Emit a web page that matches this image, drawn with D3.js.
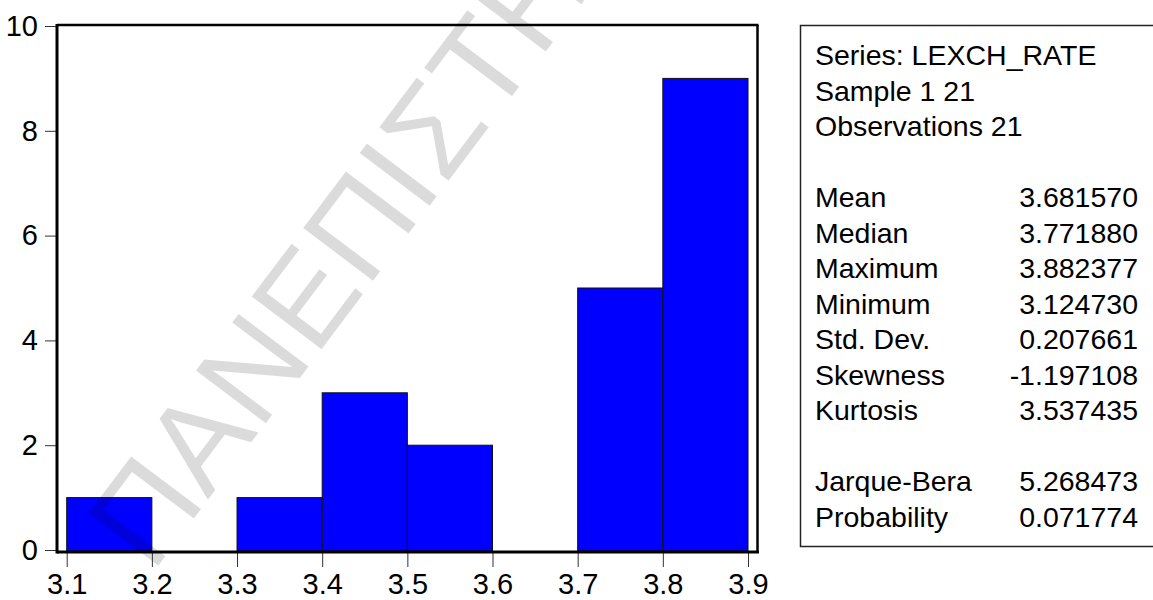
<!DOCTYPE html>
<html>
<head>
  <meta charset="utf-8">
  <title>LEXCH_RATE histogram</title>
  <script src="https://d3js.org/d3.v7.min.js"></script>
  <style>
    body { margin: 0; background: #fff; }
    svg { display: block; font-family: "Liberation Sans", Arial, sans-serif; }
    .tick line { stroke: #333; }
    .tick text { font-size: 29px; fill: #000; }
    .stats text { font-size: 28.5px; fill: #000; }
  </style>
</head>
<body>
  <svg width="1153" height="600"></svg>
  <script>
    // histogram bins (edges) and counts
    const binEdges = [3.1, 3.2, 3.3, 3.4, 3.5, 3.6, 3.7, 3.8, 3.9];
    const counts = [1, 0, 1, 3, 2, 0, 5, 9];

    const xTicks = [3.1, 3.2, 3.3, 3.4, 3.5, 3.6, 3.7, 3.8, 3.9];
    const yTicks = [0, 2, 4, 6, 8, 10];

    const headerLines = ["Series: LEXCH_RATE", "Sample 1 21", "Observations 21"];
    const statLabels = ["Mean", "Median", "Maximum", "Minimum", "Std. Dev.", "Skewness", "Kurtosis"];
    const statValues = ["3.681570", "3.771880", "3.882377", "3.124730", "0.207661", "-1.197108", "3.537435"];
    const testLabels = ["Jarque-Bera", "Probability"];
    const testValues = ["5.268473", "0.071774"];

    const svg = d3.select("svg");

    const frame = { left: 57, right: 757.5, top: 25, bottom: 552 };

    const x = d3.scaleLinear().domain([3.1, 3.9]).range([66.7, 748]);
    const y = d3.scaleLinear().domain([0, 10]).range([550, 26]);

    const bins = counts.map((c, i) => ({ x0: binEdges[i], x1: binEdges[i + 1], n: c }));

    svg.append("g")
      .selectAll("rect")
      .data(bins.filter(d => d.n > 0))
      .join("rect")
      .attr("x", d => x(d.x0))
      .attr("y", d => y(d.n))
      .attr("width", d => x(d.x1) - x(d.x0))
      .attr("height", d => y(0) - y(d.n) + 1)
      .attr("fill", "#0000ff")
      .attr("stroke", "#111")
      .attr("stroke-width", 1);

    // watermark
    svg.append("text")
      .attr("transform", "translate(152,574) rotate(-53)")
      .attr("font-size", 127)
      .attr("letter-spacing", 1)
      .attr("fill", "#000")
      .attr("fill-opacity", 0.14)
      .text("ΠΑΝΕΠΙΣΤΗΜΙΟ");

    // frame
    svg.append("line")
      .attr("x1", frame.left).attr("x2", frame.right + 1)
      .attr("y1", frame.top).attr("y2", frame.top)
      .attr("stroke", "#000").attr("stroke-width", 2.5);
    svg.append("line")
      .attr("x1", frame.right).attr("x2", frame.right)
      .attr("y1", frame.top).attr("y2", frame.bottom)
      .attr("stroke", "#000").attr("stroke-width", 2.5);

    const yAxis = svg.append("g")
      .attr("transform", `translate(${frame.left - 1},0)`)
      .call(d3.axisLeft(y).tickValues(yTicks).tickSize(11).tickPadding(7));
    yAxis.select(".domain").remove();

    const xAxis = svg.append("g")
      .attr("transform", `translate(0,${frame.bottom})`)
      .call(d3.axisBottom(x).tickValues(xTicks).tickSize(15).tickPadding(6).tickFormat(d3.format(".1f")));
    xAxis.select(".domain").remove();

    svg.append("line")
      .attr("x1", frame.left).attr("x2", frame.left)
      .attr("y1", frame.top - 1).attr("y2", frame.bottom + 1.5)
      .attr("stroke", "#000").attr("stroke-width", 3);
    svg.append("line")
      .attr("x1", frame.left).attr("x2", frame.right + 1.5)
      .attr("y1", frame.bottom).attr("y2", frame.bottom)
      .attr("stroke", "#000").attr("stroke-width", 3);

    // statistics box
    const box = svg.append("g").attr("class", "stats");
    box.append("rect")
      .attr("x", 800.5).attr("y", 25.5)
      .attr("width", 400).attr("height", 521)
      .attr("fill", "none").attr("stroke", "#222").attr("stroke-width", 1.5);

    const lineH = 35.5, base = 65, textX = 815, valX = 1138;

    box.selectAll("text.head")
      .data(headerLines)
      .join("text")
      .attr("class", "head")
      .attr("x", textX)
      .attr("y", (d, i) => base + i * lineH)
      .text(d => d);

    const rows = statLabels.map((l, i) => ({ label: l, value: statValues[i], row: 4 + i }))
      .concat(testLabels.map((l, i) => ({ label: l, value: testValues[i], row: 12 + i })));

    box.selectAll("text.lab")
      .data(rows)
      .join("text")
      .attr("class", "lab")
      .attr("x", textX)
      .attr("y", d => base + d.row * lineH)
      .text(d => d.label);

    box.selectAll("text.val")
      .data(rows)
      .join("text")
      .attr("class", "val")
      .attr("x", valX)
      .attr("y", d => base + d.row * lineH)
      .attr("text-anchor", "end")
      .text(d => d.value);
  </script>
</body>
</html>
